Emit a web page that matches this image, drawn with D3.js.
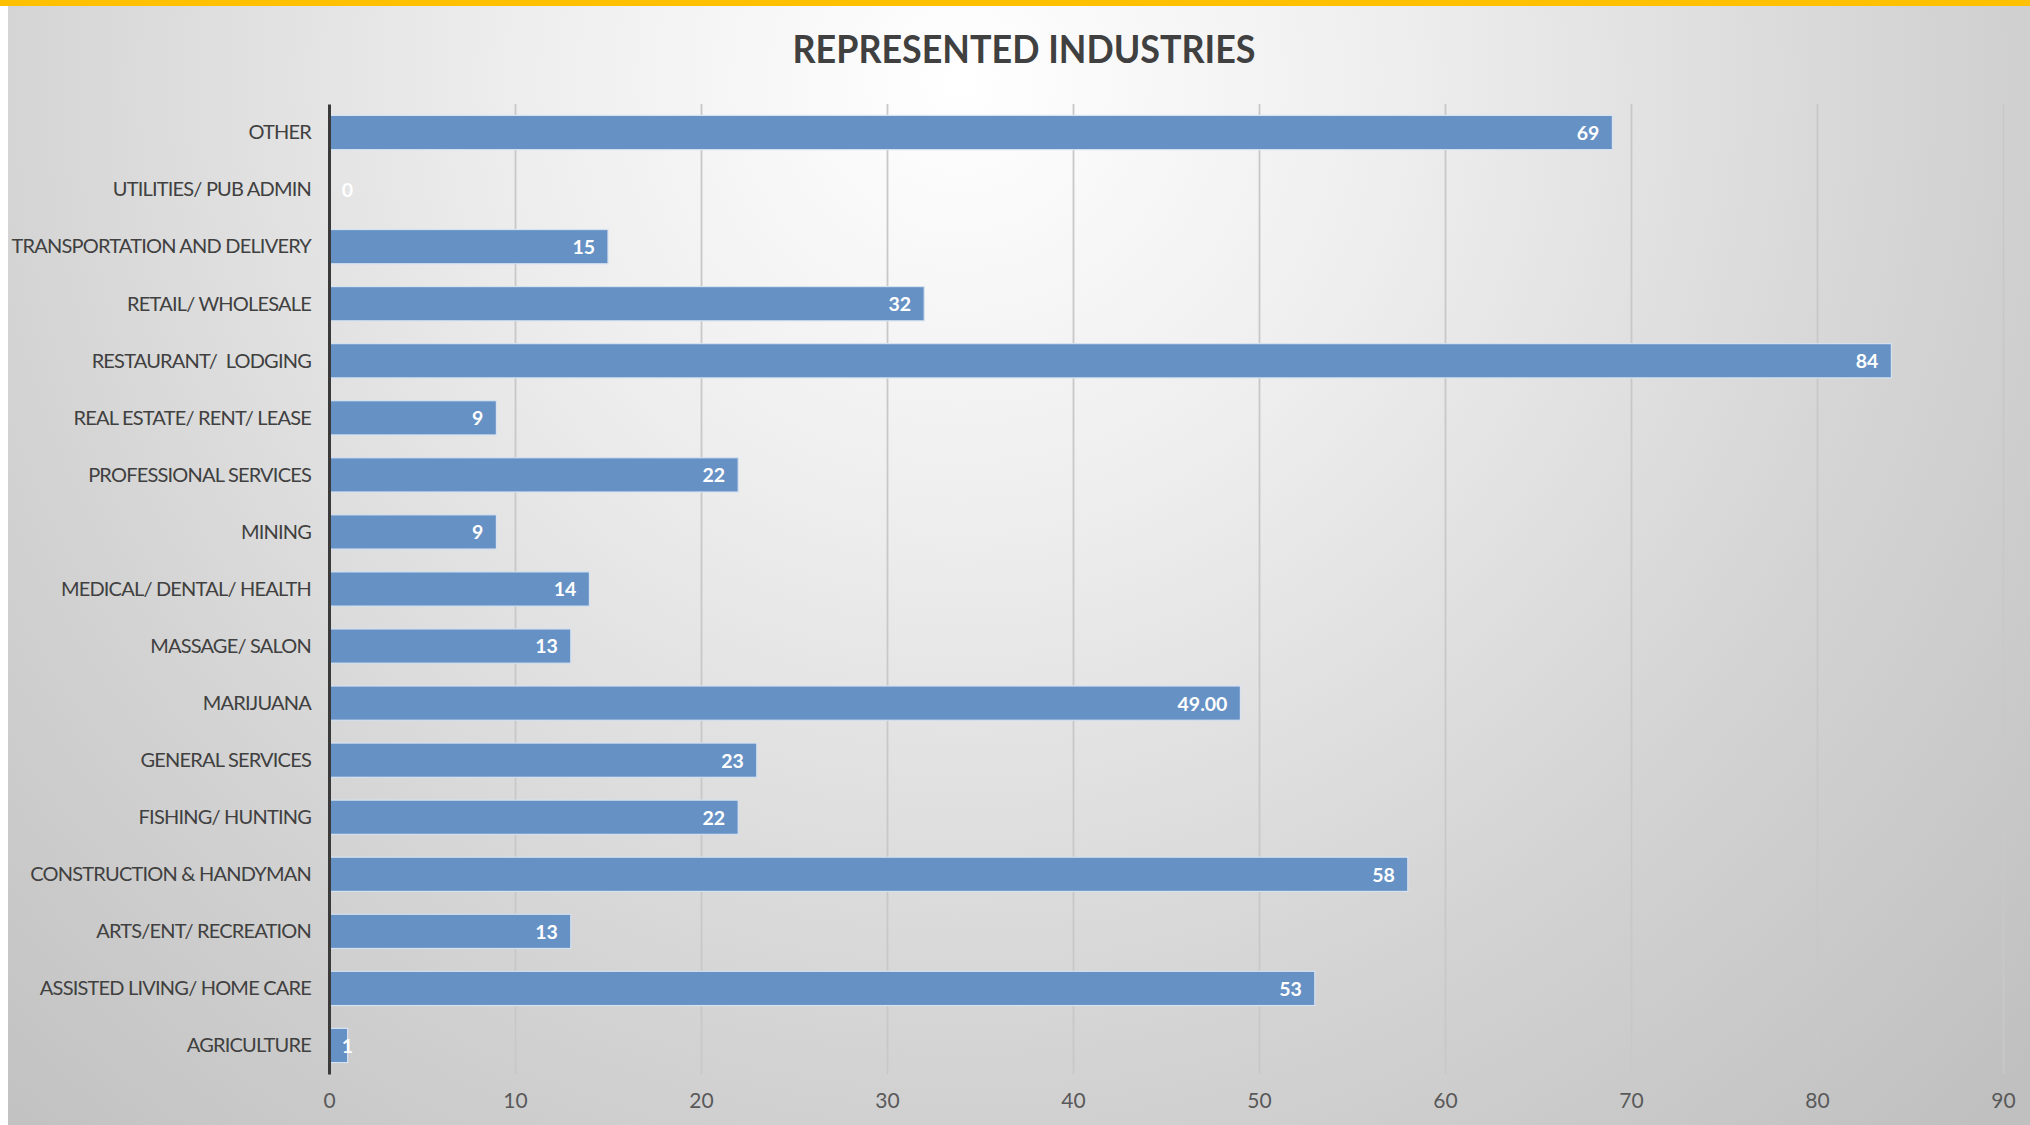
<!DOCTYPE html>
<html>
<head>
<meta charset="utf-8">
<script src="https://cdn.jsdelivr.net/npm/d3@7"></script>
<style>
  html, body { margin: 0; padding: 0; background: #ffffff; }
  svg { display: block; }
</style>
</head>
<body>
<svg id="chart" width="2030" height="1125"></svg>
<script>
// ---- data (top to bottom as shown) ----
const categories = [
  "OTHER",
  "UTILITIES/ PUB ADMIN",
  "TRANSPORTATION AND DELIVERY",
  "RETAIL/ WHOLESALE",
  "RESTAURANT/  LODGING",
  "REAL ESTATE/ RENT/ LEASE",
  "PROFESSIONAL SERVICES",
  "MINING",
  "MEDICAL/ DENTAL/ HEALTH",
  "MASSAGE/ SALON",
  "MARIJUANA",
  "GENERAL SERVICES",
  "FISHING/ HUNTING",
  "CONSTRUCTION & HANDYMAN",
  "ARTS/ENT/ RECREATION",
  "ASSISTED LIVING/ HOME CARE",
  "AGRICULTURE"
];
const values = [69, 0, 15, 32, 84, 9, 22, 9, 14, 13, 49, 23, 22, 58, 13, 53, 1];
const valueLabels = ["69", "0", "15", "32", "84", "9", "22", "9", "14", "13", "49.00", "23", "22", "58", "13", "53", "1"];
const xTicks = [0, 10, 20, 30, 40, 50, 60, 70, 80, 90];
const title = "REPRESENTED INDUSTRIES";

// ---- layout ----
const W = 2030, H = 1125;
const svg = d3.select("#chart");
const defs = svg.append("defs");

const bg = defs.append("radialGradient")
  .attr("id", "bgGrad")
  .attr("gradientUnits", "userSpaceOnUse")
  .attr("cx", 960).attr("cy", 80).attr("r", 1450);
bg.append("stop").attr("offset", 0).attr("stop-color", "#ffffff");
bg.append("stop").attr("offset", 0.3).attr("stop-color", "#eeeeee");
bg.append("stop").attr("offset", 0.68).attr("stop-color", "#d3d3d3");
bg.append("stop").attr("offset", 1).attr("stop-color", "#c0c0c0");

const plotTop = 104, plotBottom = 1074;

const gridGrad = defs.append("linearGradient")
  .attr("id", "gridGrad")
  .attr("gradientUnits", "userSpaceOnUse")
  .attr("x1", 0).attr("x2", 0).attr("y1", plotTop).attr("y2", plotBottom);
gridGrad.append("stop").attr("offset", 0).attr("stop-color", "#c8c8c8");
gridGrad.append("stop").attr("offset", 1).attr("stop-color", "#7e7e7e");

svg.append("rect").attr("x", 0).attr("y", 0).attr("width", W).attr("height", H).attr("fill", "#ffffff");
svg.append("rect").attr("x", 8).attr("y", 6).attr("width", W - 8).attr("height", H - 6).attr("fill", "url(#bgGrad)");
svg.append("rect").attr("x", 0).attr("y", 0).attr("width", W).attr("height", 6).attr("fill", "#ffc000");

const x = d3.scaleLinear().domain([0, 90]).range([329, 2003]);
const y = d3.scaleBand().domain(categories).range([plotTop, plotBottom]).paddingInner(0.4).paddingOuter(0.2);

const font = "Lato, 'Open Sans', sans-serif";

// gridlines + x tick labels
const xAxis = d3.axisBottom(x).tickValues(xTicks).tickSize(-(plotBottom - plotTop)).tickPadding(19).tickFormat(d3.format("d"));
const gx = svg.append("g").attr("transform", `translate(0,${plotBottom})`).call(xAxis);
gx.select(".domain").remove();
gx.selectAll(".tick line").attr("stroke", "url(#gridGrad)").attr("stroke-width", 1.8)
  .filter(d => d === 0).attr("stroke", "none");
gx.selectAll(".tick text").attr("font-family", font).attr("font-size", 21).attr("fill", "#595959")
  .attr("dy", "0.71em");

// bars
svg.append("g").selectAll("rect").data(categories).join("rect")
  .attr("x", x(0))
  .attr("y", d => y(d))
  .attr("width", (d, i) => x(values[i]) - x(0))
  .attr("height", y.bandwidth())
  .attr("fill", "#6691c5")
  .attr("stroke", (d, i) => values[i] > 0 ? "#d6e2f0" : "none")
  .attr("stroke-width", 1.2);

// category axis
const yAxis = d3.axisLeft(y).tickSize(0).tickPadding(18);
const gy = svg.append("g").attr("transform", `translate(${x(0)},0)`).call(yAxis);
gy.select(".domain").attr("stroke", "#3a3a3a").attr("stroke-width", 3);
gy.selectAll(".tick text").attr("font-family", font).attr("font-size", 20).attr("fill", "#404040")
  .attr("letter-spacing", "-0.8px")
  .attr("dy", "0.34em")
  .style("white-space", "pre");

// value labels
svg.append("g").selectAll("text").data(categories).join("text")
  .attr("x", (d, i) => Math.max(x(values[i]) - 13, x(0) + 24))
  .attr("y", d => y(d) + y.bandwidth() / 2)
  .attr("dy", "0.38em")
  .attr("text-anchor", "end")
  .attr("font-family", font)
  .attr("font-weight", "bold")
  .attr("font-size", 19.5)
  .attr("fill", "#ffffff")
  .text((d, i) => valueLabels[i]);

// title
svg.append("text")
  .attr("x", 1024).attr("y", 63)
  .attr("text-anchor", "middle")
  .attr("font-family", font)
  .attr("font-weight", "bold")
  .attr("font-size", 38)
  .attr("fill", "#404040")
  .attr("textLength", 463)
  .attr("lengthAdjust", "spacingAndGlyphs")
  .text(title);
</script>
</body>
</html>
